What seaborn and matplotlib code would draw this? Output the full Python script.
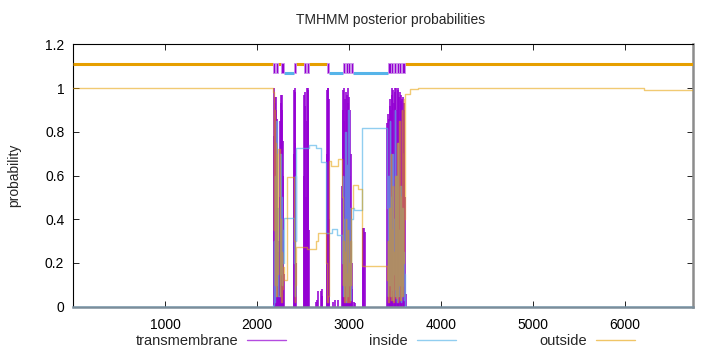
import matplotlib
matplotlib.use("Agg")
import matplotlib.pyplot as plt
from matplotlib.lines import Line2D
import seaborn as sns

# ---------------- data ----------------
seq_len = 6740

# transmembrane posterior probability (impulses)
tm_pos = [2182, 2187, 2192, 2197, 2202, 2207, 2212, 2217, 2222, 2227,
          2236, 2244,
          2248, 2253, 2258, 2263, 2268, 2273, 2278, 2283, 2288, 2293,
          2398, 2403, 2408, 2413, 2418, 2423,
          2510, 2515, 2520, 2525, 2530, 2535, 2540, 2545, 2550, 2555, 2560, 2565,
          2640, 2650, 2668, 2694, 2704, 2712,
          2758, 2763, 2768, 2773, 2778, 2783,
          2828, 2850, 2882,
          2930, 2935, 2940, 2945, 2950, 2955, 2960, 2965, 2970, 2975, 2980,
          2985, 2990, 2995, 3000, 3005, 3010, 3015, 3020, 3025, 3030, 3036,
          3058, 3068,
          3152, 3158, 3164, 3170,
          3418, 3426, 3434, 3442, 3450, 3458, 3466, 3474, 3482, 3490, 3498,
          3506, 3514, 3522, 3530, 3538, 3546, 3554, 3562, 3570, 3578, 3586,
          3594, 3602, 3610, 3625]
tm_prob = [0.78, 1.0, 0.93, 0.96, 0.55, 0.9, 0.96, 0.86, 0.45, 0.25,
           0.1, 0.3,
           0.5, 0.85, 0.97, 0.93, 0.97, 0.9, 0.76, 0.6, 0.3, 0.15,
           0.7, 0.99, 1.0, 0.98, 0.75, 0.2,
           0.6, 0.97, 0.98, 0.92, 0.5, 0.3, 0.85, 1.0, 0.99, 1.0, 0.9, 0.35,
           0.02, 0.03, 0.07, 0.07, 0.08, 0.05,
           0.7, 0.99, 1.0, 1.0, 0.95, 0.4,
           0.02, 0.03, 0.03,
           0.55, 0.9, 0.99, 0.85, 1.0, 0.7, 0.95, 0.98, 0.8, 0.97, 0.9,
           1.0, 0.85, 0.93, 0.96, 0.75, 0.9, 0.6, 0.7, 0.35, 0.2, 0.08,
           0.02, 0.015,
           0.36, 0.36, 0.36, 0.34,
           0.84, 0.88, 0.86, 0.92, 0.95, 0.9, 1.0, 0.97, 0.99, 0.93, 1.0,
           0.98, 1.0, 0.9, 0.99, 1.0, 0.96, 0.98, 0.94, 0.97, 0.95, 0.96,
           0.93, 0.9, 0.5, 0.06]

# inside posterior probability (step line)
inside_pos = [1, 2172, 2180, 2186, 2192, 2198, 2204, 2210, 2216, 2222, 2230,
              2246, 2252, 2258, 2264, 2270, 2276, 2284, 2294,
              2402, 2408, 2414, 2420, 2426, 2568, 2640, 2694, 2748, 2820, 2872,
              2928, 2934, 2940, 2946, 2952, 2958, 2964, 2970, 2976, 2982, 2988,
              2994, 3000, 3006, 3012, 3018, 3026, 3041, 3060, 3146,
              3416, 3424, 3430, 3436, 3442, 3448, 3454, 3460, 3466, 3472, 3478,
              3484, 3490, 3496, 3502, 3508, 3514, 3520, 3526, 3532, 3538, 3544,
              3550, 3556, 3562, 3568, 3574, 3580, 3586, 3592, 3598, 3604, 3612,
              6740]
inside_prob = [0.0, 0.01, 0.3, 0.02, 0.6, 0.05, 0.25, 0.85, 0.1, 0.45, 0.05,
               0.2, 0.7, 0.15, 0.5, 0.1, 0.35, 0.2, 0.404,
               0.2, 0.05, 0.6, 0.3, 0.724, 0.739, 0.724, 0.663, 0.336, 0.355, 0.33,
               0.2, 0.6, 0.05, 0.4, 0.1, 0.8, 0.02, 0.3, 0.65, 0.05, 0.2,
               0.9, 0.1, 0.45, 0.03, 0.25, 0.4, 0.45, 0.442, 0.816,
               0.45, 0.05, 0.6, 0.1, 0.85, 0.2, 0.05, 0.5, 0.08, 0.7, 0.03,
               0.4, 0.15, 0.9, 0.05, 0.3, 0.6, 0.02, 0.2, 0.75, 0.05, 0.35,
               0.1, 0.55, 0.02, 0.3, 0.05, 0.45, 0.1, 0.25, 0.03, 0.15, 0.0,
               0.0]

# outside posterior probability (step line)
outside_pos = [1, 2172, 2180, 2186, 2192, 2198, 2204, 2210, 2216, 2222, 2230,
               2246, 2252, 2258, 2264, 2270, 2276, 2284, 2294, 2322,
               2402, 2408, 2414, 2420, 2426, 2546, 2640, 2665,
               2755, 2762, 2770, 2778, 2786, 2810, 2880,
               2928, 2934, 2940, 2946, 2952, 2958, 2964, 2970, 2976, 2982, 2988,
               2994, 3000, 3006, 3012, 3018, 3026, 3041, 3095, 3146,
               3416, 3424, 3430, 3436, 3442, 3448, 3454, 3460, 3466, 3472, 3478,
               3484, 3490, 3496, 3502, 3508, 3514, 3520, 3526, 3532, 3538, 3544,
               3550, 3556, 3562, 3568, 3574, 3580, 3586, 3592, 3598, 3604, 3612,
               3660, 3750, 6215, 6740]
outside_prob = [1.0, 0.98, 0.35, 0.9, 0.1, 0.75, 0.45, 0.05, 0.7, 0.15, 0.72,
                0.3, 0.05, 0.4, 0.02, 0.25, 0.08, 0.18, 0.12, 0.594,
                0.3, 0.02, 0.1, 0.2, 0.274, 0.262, 0.30, 0.336,
                0.2, 0.02, 0.05, 0.4, 0.665, 0.645, 0.675,
                0.5, 0.1, 0.3, 0.02, 0.25, 0.05, 0.4, 0.03, 0.15, 0.02, 0.35,
                0.05, 0.2, 0.02, 0.3, 0.1, 0.45, 0.556, 0.54, 0.186,
                0.12, 0.3, 0.02, 0.45, 0.05, 0.2, 0.7, 0.03, 0.35, 0.1, 0.55,
                0.02, 0.25, 0.08, 0.6, 0.04, 0.3, 0.05, 0.75, 0.02, 0.4, 0.1,
                0.85, 0.03, 0.5, 0.15, 0.9, 0.05, 0.7, 0.2, 0.95, 0.4, 0.975,
                0.995, 1.0, 0.993, 0.993]

# predicted topology shown above the curves
topo_out_start = [1, 2229, 2427, 2564, 3605]
topo_out_end = [2178, 2264, 2514, 2760, 6740]
topo_in_start = [2289, 2784, 3041]
topo_in_end = [2402, 2936, 3424]
topo_tm_start = [2178, 2207, 2264, 2402, 2514, 2543, 2760, 2936, 2965, 2994,
                 3019, 3424, 3460, 3489, 3518, 3547, 3575]
topo_tm_end = [2200, 2229, 2289, 2427, 2535, 2564, 2784, 2958, 2987, 3015,
               3041, 3453, 3482, 3510, 3540, 3568, 3605]
topo_out_level = 1.11
topo_in_level = 1.07

x_ticks = [1000, 2000, 3000, 4000, 5000, 6000]
y_ticks = [0, 0.2, 0.4, 0.6, 0.8, 1.0, 1.2]
y_tick_labels = ["0", "0.2", "0.4", "0.6", "0.8", "1", "1.2"]

title = "TMHMM posterior probabilities"
y_label = "probability"
series_names = ["transmembrane", "inside", "outside"]

# ---------------- style ----------------
TM_C = "#9400d3"
IN_C = "#56b4e9"
OUT_C = "#e69f00"

sns.set_theme(style="ticks")
plt.rcParams["font.family"] = ["Liberation Sans", "DejaVu Sans"]
plt.rcParams["font.size"] = 10

fig = plt.figure(figsize=(7.2, 3.52), dpi=100)
ax = fig.add_axes([0.1018, 0.1287, 0.8602, 0.7454])

# posterior probability curves
ax.vlines(tm_pos, 0, tm_prob, color=TM_C, lw=1.15, zorder=2)
sns.lineplot(x=inside_pos, y=inside_prob, drawstyle="steps-post", color=IN_C,
             lw=1.0, alpha=0.65, ax=ax, zorder=3, estimator=None)
sns.lineplot(x=outside_pos, y=outside_prob, drawstyle="steps-post", color=OUT_C,
             lw=1.0, alpha=0.55, ax=ax, zorder=3, estimator=None)

# topology track
ax.hlines([topo_out_level] * len(topo_out_start), topo_out_start, topo_out_end,
          color=OUT_C, lw=2.2, zorder=4)
ax.hlines([topo_in_level] * len(topo_in_start), topo_in_start, topo_in_end,
          color=IN_C, lw=2.2, zorder=4)
ax.bar(topo_tm_start, height=0.046,
       width=[e - s for s, e in zip(topo_tm_start, topo_tm_end)],
       bottom=1.067, align="edge", color=TM_C, edgecolor="#c98ee8",
       linewidth=0.6, zorder=5)

ax.set_xlim(1, seq_len)
ax.set_ylim(0, 1.2)
ax.set_xticks(x_ticks)
ax.set_xticklabels([str(t) for t in x_ticks])
ax.set_yticks(y_ticks)
ax.set_yticklabels(y_tick_labels)
ax.tick_params(axis="both", direction="in", length=4, width=0.6,
               top=True, right=True, labelsize=10, colors="black")
ax.tick_params(axis="x", pad=8)
ax.tick_params(axis="y", pad=6.5)
ax.set_xlabel("")
ax.set_ylabel("")

for side in ["left", "top"]:
    ax.spines[side].set_color("black")
    ax.spines[side].set_linewidth(0.8)
ax.spines["right"].set_color("#8c8c8c")
ax.spines["right"].set_linewidth(1.8)
ax.spines["bottom"].set_color("#7b8d9a")
ax.spines["bottom"].set_linewidth(1.8)

fig.text(0.543, 1 - 20 / 352, title, ha="center", va="center", fontsize=10)
fig.text(14 / 720, 0.5014, y_label, rotation=90,
         ha="center", va="center", fontsize=10)

handles = [
    Line2D([], [], color=TM_C, lw=1.0, alpha=0.7),
    Line2D([], [], color=IN_C, lw=1.0, alpha=0.65),
    Line2D([], [], color=OUT_C, lw=1.0, alpha=0.6),
]
fig.legend(handles, series_names, loc="center", bbox_to_anchor=(0.535, 1 - 341 / 352),
           ncol=3, frameon=False, markerfirst=False, handlelength=2.67,
           handletextpad=0.62, columnspacing=5.7, borderpad=0, fontsize=10.5)

fig.savefig("out.png", dpi=100)
